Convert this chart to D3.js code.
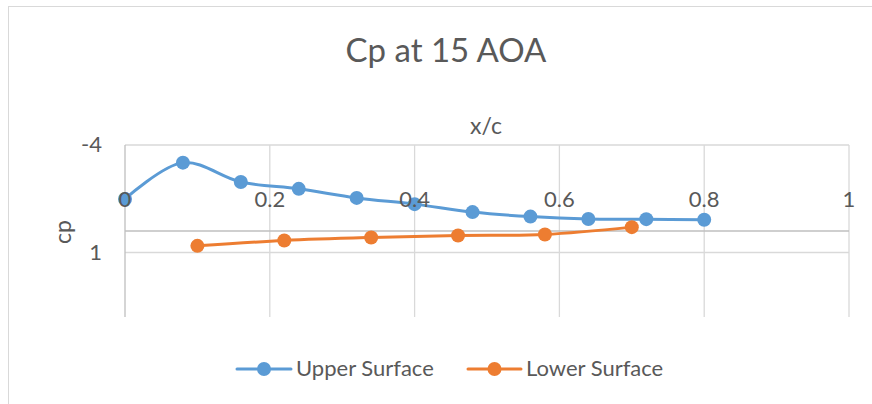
<!DOCTYPE html>
<html>
<head>
<meta charset="utf-8">
<script src="https://cdn.jsdelivr.net/npm/d3@7"></script>
<style>
  body { margin: 0; background: #fff; }
  text { font-family: Lato, "Open Sans", sans-serif; fill: #595959; }
</style>
</head>
<body>
<div class="chart"></div>
<script>
// data
const upperX = [0, 0.08, 0.16, 0.24, 0.32, 0.40, 0.48, 0.56, 0.64, 0.72, 0.80];
const upperCp = [-1.49, -3.18, -2.28, -1.96, -1.54, -1.25, -0.88, -0.67, -0.56, -0.55, -0.52];
const lowerX = [0.10, 0.22, 0.34, 0.46, 0.58, 0.70];
const lowerCp = [0.69, 0.44, 0.30, 0.21, 0.16, -0.18];
const xTicks = [0, 0.2, 0.4, 0.6, 0.8, 1];
const yTicks = [-4, 1];
const seriesNames = ["Upper Surface", "Lower Surface"];
const colors = ["#5B9BD5", "#ED7D31"];

// Mesures
const size = { width: 872, height: 404 };
const plot = { left: 125, right: 849, top: 145, bottom: 317 };

const svg = d3.select(".chart")
  .append("svg")
  .attr("width", size.width)
  .attr("height", size.height);

// outer border (only top & left visible)
svg.append("rect")
  .attr("x", 8.5).attr("y", 6.5)
  .attr("width", 880).attr("height", 420)
  .attr("fill", "none")
  .attr("stroke", "#D9D9D9");

const x = d3.scaleLinear().domain([0, 1]).range([plot.left, plot.right]);
const y = d3.scaleLinear().domain([-4, 4]).range([plot.top, plot.bottom]);

// gridlines
svg.append("g").selectAll("line")
  .data(xTicks.slice(1))
  .join("line")
  .attr("x1", d => x(d)).attr("x2", d => x(d))
  .attr("y1", plot.top).attr("y2", plot.bottom)
  .attr("stroke", "#D9D9D9").attr("stroke-width", 1.3);

svg.append("g").selectAll("line")
  .data(yTicks)
  .join("line")
  .attr("x1", plot.left).attr("x2", plot.right)
  .attr("y1", d => y(d)).attr("y2", d => y(d))
  .attr("stroke", "#D9D9D9").attr("stroke-width", 1.3);

// axis lines
svg.append("line")
  .attr("x1", x(0)).attr("x2", x(0))
  .attr("y1", plot.top).attr("y2", plot.bottom)
  .attr("stroke", "#BFBFBF").attr("stroke-width", 1.3);
svg.append("line")
  .attr("x1", plot.left).attr("x2", plot.right)
  .attr("y1", y(0)).attr("y2", y(0))
  .attr("stroke", "#BFBFBF").attr("stroke-width", 1.3);

// series
const series = [
  upperX.map((d, i) => [d, upperCp[i]]),
  lowerX.map((d, i) => [d, lowerCp[i]])
];

const line = d3.line()
  .x(d => x(d[0]))
  .y(d => y(d[1]))
  .curve(d3.curveCatmullRom.alpha(0.5));

series.forEach((pts, k) => {
  const g = svg.append("g");
  g.append("path")
    .attr("d", line(pts))
    .attr("fill", "none")
    .attr("stroke", colors[k])
    .attr("stroke-width", 3)
    .attr("stroke-linecap", "round");
  g.selectAll("circle")
    .data(pts)
    .join("circle")
    .attr("cx", d => x(d[0]))
    .attr("cy", d => y(d[1]))
    .attr("r", 7)
    .attr("fill", colors[k]);
});

// tick labels (drawn over the series like in the original)
svg.append("g").selectAll("text")
  .data(xTicks)
  .join("text")
  .attr("x", d => x(d))
  .attr("y", y(0) - 24)
  .attr("text-anchor", "middle")
  .attr("font-size", 22)
  .text(d => d3.format("")(d));

svg.append("g").selectAll("text")
  .data(yTicks)
  .join("text")
  .attr("x", 102)
  .attr("y", d => y(d) + 7)
  .attr("text-anchor", "end")
  .attr("font-size", 22)
  .text(d => d);

// titles
svg.append("text")
  .attr("x", 446).attr("y", 62)
  .attr("text-anchor", "middle")
  .attr("font-size", 33)
  .text("Cp at 15 AOA");

svg.append("text")
  .attr("x", 486).attr("y", 134)
  .attr("text-anchor", "middle")
  .attr("font-size", 23)
  .text("x/c");

svg.append("text")
  .attr("transform", "translate(71,232) rotate(-90)")
  .attr("text-anchor", "middle")
  .attr("font-size", 23)
  .text("cp");

// legend
const legendItems = [
  { x0: 237, x1: 291, tx: 296 },
  { x0: 468, x1: 521, tx: 526 }
];
const legY = 369;
legendItems.forEach((it, k) => {
  svg.append("line")
    .attr("x1", it.x0).attr("x2", it.x1)
    .attr("y1", legY).attr("y2", legY)
    .attr("stroke", colors[k]).attr("stroke-width", 3)
    .attr("stroke-linecap", "round");
  svg.append("circle")
    .attr("cx", (it.x0 + it.x1) / 2).attr("cy", legY)
    .attr("r", 7).attr("fill", colors[k]);
  svg.append("text")
    .attr("x", it.tx).attr("y", legY + 7)
    .attr("font-size", 22)
    .text(seriesNames[k]);
});
</script>
</body>
</html>
